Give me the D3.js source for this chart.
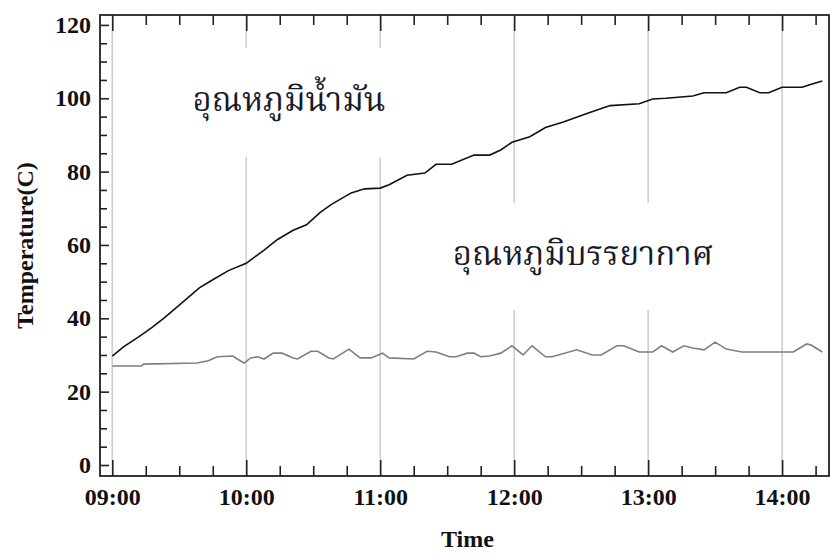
<!DOCTYPE html>
<html>
<head>
<meta charset="utf-8">
<script src="https://cdn.jsdelivr.net/npm/d3@7"></script>
<style>
  html, body { margin: 0; padding: 0; background: #fff; }
  svg { display: block; }
  .tick-label { font-family: "Liberation Serif", "DejaVu Serif", serif; font-weight: bold; font-size: 24px; fill: #111; }
  .note { font-family: "Noto Serif Thai", "Noto Sans Thai Looped", "Noto Sans Thai", "Tahoma", "Noto Sans", sans-serif; font-size: 33px; fill: #1a1a2a; }
</style>
</head>
<body>
<svg id="chart" width="830" height="554"></svg>
<script>
// Oil temperature readings (time of day, °C)
const oilTimes = ["09:00","09:05","09:12","09:18","09:23","09:30","09:39","09:45","09:52",
  "10:00","10:08","10:14","10:21","10:27","10:33","10:38","10:47","10:53",
  "11:00","11:04","11:12","11:20","11:25","11:32","11:42","11:49","11:54",
  "11:59","12:07","12:14","12:22","12:31","12:40","12:43","12:56",
  "13:02","13:08","13:20","13:25","13:35","13:41","13:44","13:50","13:54",
  "14:00","14:09","14:12","14:18"];
const oilTemps = [29.7,32.2,35.0,37.6,40.0,43.6,48.3,50.5,53.0,
  55.0,58.6,61.5,64.0,65.5,68.8,71.0,74.2,75.3,
  75.5,76.4,79.0,79.6,82.0,82.0,84.5,84.5,85.9,
  88.0,89.5,92.0,93.5,95.5,97.4,98.0,98.5,
  99.8,100.0,100.6,101.5,101.5,103.0,103.0,101.5,101.5,
  103.0,103.0,103.6,104.7];

// Ambient air temperature readings (time of day, °C)
const airTimes = ["09:00","09:13","09:14","09:38","09:43","09:47","09:54","09:56","09:59",
  "10:02","10:05","10:08","10:12","10:16","10:21","10:23","10:29","10:32","10:37","10:39",
  "10:46","10:51","10:56",
  "11:01","11:04","11:15","11:21","11:25","11:31","11:34","11:39","11:42","11:45","11:49","11:54",
  "11:59","12:04","12:08","12:14","12:17","12:28","12:35","12:39","12:46","12:49","12:56",
  "13:02","13:06","13:11","13:16","13:20","13:25","13:30","13:35","13:42",
  "14:05","14:11","14:13","14:18"];
const airTemps = [27.0,27.0,27.5,27.8,28.4,29.5,29.7,28.9,27.8,
  29.2,29.5,28.9,30.5,30.5,29.2,28.9,31.0,31.0,29.2,28.9,
  31.6,29.2,29.2,
  30.5,29.2,28.9,31.0,30.8,29.5,29.5,30.5,30.5,29.5,29.7,30.5,
  32.5,30.0,32.5,29.5,29.5,31.4,30.0,30.0,32.5,32.5,30.8,
  30.8,32.5,30.8,32.5,31.9,31.4,33.5,31.6,30.8,
  30.8,33.0,32.7,30.8];

// Axis ticks
const yMajorTicks = [0, 20, 40, 60, 80, 100, 120];
const yMinorStep = 5;
const xMajorTickLabels = ["09:00","10:00","11:00","12:00","13:00","14:00"];
const xMinorStepMinutes = 15;

// Axis titles and in-plot annotations
const yTitle = "Temperature(C)";
const xTitle = "Time";
const oilLabel = "อุณหภูมิน้ำมัน";
const airLabel = "อุณหภูมิบรรยากาศ";

const parseTime = d3.timeParse("%H:%M");
const fmtTime = d3.timeFormat("%H:%M");

const plot = { left: 100, right: 829, top: 15, bottom: 476 };

const svg = d3.select("#chart");

// frame edge sits just left of 09:00 and just right of the last reading
const x = d3.scaleTime()
  .domain([d3.timeSecond.offset(parseTime("08:54"), 30), parseTime("14:21")])
  .range([plot.left, plot.right]);

const y = d3.scaleLinear()
  .domain([-3, 122.7])
  .range([plot.bottom, plot.top]);

const xMajor = xMajorTickLabels.map(parseTime);
const xMinor = d3.timeMinute.every(xMinorStepMinutes).range(parseTime("09:00"), parseTime("14:21"))
  .filter(d => d.getMinutes() !== 0);
const yMinor = d3.range(0, 121, yMinorStep).filter(v => v % 20 !== 0);

// Vertical grid lines at each hour
const grid = svg.append("g");
grid.selectAll("line").data(xMajor).join("line")
  .attr("x1", d => x(d)).attr("x2", d => x(d))
  .attr("y1", plot.top).attr("y2", plot.bottom)
  .attr("stroke", "#cfcfcf").attr("stroke-width", 1.6);

// Series
const oil = oilTimes.map((t, i) => ({ t: parseTime(t), v: oilTemps[i] }));
const air = airTimes.map((t, i) => ({ t: parseTime(t), v: airTemps[i] }));
const line = d3.line().x(d => x(d.t)).y(d => y(d.v));

// Annotation boxes hide grid lines behind the labels
const noteG = svg.append("g");
function note(text, cx, cy, boxX0, boxX1, boxY0, boxY1) {
  noteG.append("rect")
    .attr("x", boxX0).attr("y", boxY0)
    .attr("width", boxX1 - boxX0).attr("height", boxY1 - boxY0)
    .attr("fill", "#fff");
  noteG.append("text").attr("class", "note")
    .attr("x", cx).attr("y", cy)
    .attr("text-anchor", "middle").attr("dominant-baseline", "central")
    .text(text);
}
note(oilLabel, 289, 102, 180, 400, 48, 157);
note(airLabel, 583, 256, 440, 720, 203, 310);

svg.append("path").datum(air)
  .attr("d", line).attr("fill", "none")
  .attr("stroke", "#7f7f7f").attr("stroke-width", 1.6);
svg.append("path").datum(oil)
  .attr("d", line).attr("fill", "none")
  .attr("stroke", "#111").attr("stroke-width", 1.6);

// Axes (ticks pointing into the plot)
const axisColor = "#222";
function styleAxis(g) {
  g.select(".domain").remove();
  g.selectAll("line").attr("stroke", axisColor).attr("stroke-width", 1.6);
}

const bottomMajor = svg.append("g").attr("transform", `translate(0,${plot.bottom})`)
  .call(d3.axisBottom(x).tickValues(xMajor).tickFormat(fmtTime).tickSize(-16).tickPadding(12));
bottomMajor.call(styleAxis);
bottomMajor.selectAll("text").attr("class", "tick-label");

svg.append("g").attr("transform", `translate(0,${plot.bottom})`)
  .call(d3.axisBottom(x).tickValues(xMinor).tickFormat("").tickSize(-10)).call(styleAxis);

svg.append("g").attr("transform", `translate(0,${plot.top})`)
  .call(d3.axisTop(x).tickValues(xMajor).tickFormat("").tickSize(-16)).call(styleAxis);
svg.append("g").attr("transform", `translate(0,${plot.top})`)
  .call(d3.axisTop(x).tickValues(xMinor).tickFormat("").tickSize(-10)).call(styleAxis);

const leftMajor = svg.append("g").attr("transform", `translate(${plot.left},0)`)
  .call(d3.axisLeft(y).tickValues(yMajorTicks).tickSize(-9).tickPadding(9));
leftMajor.call(styleAxis);
leftMajor.selectAll("text").attr("class", "tick-label");
svg.append("g").attr("transform", `translate(${plot.left},0)`)
  .call(d3.axisLeft(y).tickValues(yMinor).tickFormat("").tickSize(-7)).call(styleAxis);

// Frame
svg.append("rect")
  .attr("x", plot.left).attr("y", plot.top)
  .attr("width", plot.right - plot.left).attr("height", plot.bottom - plot.top)
  .attr("fill", "none").attr("stroke", axisColor).attr("stroke-width", 1.8);

// Axis titles
svg.append("text").attr("class", "tick-label")
  .attr("x", (plot.left + plot.right) / 2 + 3).attr("y", 547)
  .attr("text-anchor", "middle").text(xTitle);
svg.append("text").attr("class", "tick-label")
  .attr("transform", `translate(33,${(plot.top + plot.bottom) / 2}) rotate(-90)`)
  .attr("text-anchor", "middle").text(yTitle);
</script>
</body>
</html>
